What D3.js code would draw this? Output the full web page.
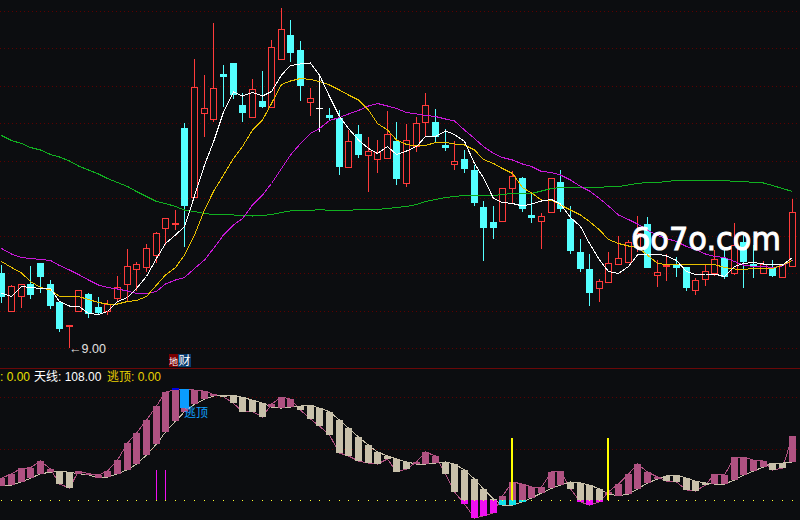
<!DOCTYPE html>
<html>
<head>
<meta charset="utf-8">
<title>K line</title>
<script src="https://cdn.jsdelivr.net/npm/d3@7"></script>
<style>
  body { margin: 0; background: #0c0d10; }
  svg { display: block; }
  text { font-family: "Liberation Sans", "Noto Sans CJK SC", sans-serif; }
</style>
</head>
<body>
<div id="chart"></div>
<script>
const open = [10.50, 9.74, 10.03, 10.28, 10.70, 10.28, 9.93, 9.44, 9.73, 10.08,
  9.82, 9.73, 9.99, 10.27, 10.57, 10.61, 10.85, 11.39, 11.48, 13.40,
  12.01, 13.69, 13.57, 14.48, 14.70, 13.86, 13.61, 13.94, 13.81, 14.77,
  15.26, 14.96, 13.91, 13.81, 13.66, 13.61, 12.61, 13.28, 12.85, 12.77,
  12.79, 13.14, 12.29, 13.03, 13.51, 13.52, 13.06, 12.67, 12.78, 12.56,
  11.82, 11.52, 11.53, 12.19, 12.40, 11.66, 11.53, 11.71, 12.32, 11.58,
  10.92, 10.58, 10.19, 10.31, 10.67, 10.71, 11.02, 11.48, 10.45, 10.63,
  10.67, 10.62, 10.15, 10.37, 10.49, 10.81, 10.49, 11.13, 10.68, 10.49,
  10.63, 10.41, 10.63];
const close = [10.02, 10.24, 10.27, 10.06, 10.42, 9.84, 9.39, 9.46, 10.15, 9.68,
  9.71, 9.88, 10.21, 10.63, 10.67, 10.99, 11.29, 11.59, 11.50, 11.84,
  14.21, 13.79, 14.19, 14.42, 14.06, 13.70, 14.17, 13.82, 15.01, 15.37,
  14.91, 14.24, 13.99, 13.81, 13.60, 12.63, 13.13, 12.86, 12.93, 12.92,
  13.27, 12.38, 13.15, 13.49, 13.85, 13.23, 13.00, 12.73, 12.58, 11.91,
  11.40, 11.40, 12.19, 12.43, 11.78, 11.60, 11.63, 12.39, 11.78, 10.95,
  10.58, 10.10, 10.33, 10.69, 10.79, 11.11, 11.29, 10.60, 10.51, 10.65,
  10.61, 10.20, 10.35, 10.53, 10.77, 10.43, 11.05, 10.73, 10.62, 10.67,
  10.45, 10.68, 11.71];
const high = [10.66, 10.26, 10.28, 10.64, 10.70, 10.36, 9.93, 9.46, 10.15, 10.11,
  10.02, 9.96, 10.44, 10.99, 10.72, 11.08, 11.33, 11.59, 11.76, 13.50,
  14.79, 14.46, 15.50, 14.66, 14.70, 14.11, 14.39, 14.54, 15.16, 15.81,
  15.56, 15.14, 14.21, 14.46, 13.81, 13.76, 13.36, 13.46, 13.22, 13.17,
  13.74, 13.52, 13.48, 13.62, 14.11, 13.78, 13.39, 13.14, 12.96, 12.67,
  11.94, 11.84, 12.19, 12.54, 12.42, 12.08, 11.70, 12.41, 12.57, 11.84,
  11.18, 10.89, 10.38, 10.92, 11.24, 11.16, 11.64, 11.62, 10.77, 10.88,
  10.83, 10.62, 10.40, 10.66, 10.97, 11.03, 11.51, 11.32, 11.06, 10.75,
  10.76, 10.68, 11.98];
const low = [9.90, 9.74, 9.81, 9.99, 10.11, 9.79, 9.33, 9.00, 9.73, 9.61,
  9.67, 9.67, 9.93, 9.95, 10.15, 10.53, 10.71, 11.06, 11.36, 11.03,
  12.01, 13.23, 13.53, 13.83, 13.99, 13.52, 13.61, 13.80, 13.81, 14.77,
  14.72, 13.94, 13.65, 13.33, 13.55, 12.47, 12.61, 12.81, 12.13, 12.51,
  12.79, 12.26, 12.23, 12.92, 13.23, 13.13, 12.95, 12.56, 12.51, 11.85,
  10.75, 11.18, 11.53, 11.91, 11.72, 11.51, 10.99, 11.71, 11.73, 10.88,
  10.52, 9.85, 9.93, 10.31, 10.67, 10.71, 10.92, 10.60, 10.23, 10.35,
  10.42, 10.15, 10.06, 10.24, 10.44, 10.39, 10.46, 10.21, 10.40, 10.49,
  10.42, 10.41, 10.63];

// moving averages
const ma5 = [10.10, 10.03, 10.23, 10.21, 10.19, 10.19, 9.93, 9.84, 9.84, 9.69,
  9.67, 9.73, 9.93, 10.01, 10.19, 10.43, 10.79, 11.09, 11.26, 11.43,
  12.04, 12.66, 13.12, 13.72, 14.12, 14.04, 14.11, 14.04, 14.13, 14.46,
  14.65, 14.68, 14.70, 14.46, 14.03, 13.63, 13.39, 13.16, 12.99, 12.89,
  13.03, 12.87, 12.94, 13.03, 13.23, 13.23, 13.34, 13.27, 13.13, 12.69,
  12.40, 11.99, 11.91, 11.89, 11.84, 11.88, 11.94, 11.97, 11.88, 11.61,
  11.43, 11.09, 10.76, 10.53, 10.49, 10.63, 10.86, 10.88, 10.88, 10.84,
  10.75, 10.53, 10.47, 10.48, 10.48, 10.43, 10.63, 10.69, 10.71, 10.68,
  10.68, 10.66, 10.81];
const ma10 = [10.73, 10.61, 10.50, 10.33, 10.21, 10.16, 10.03, 10.03, 10.03, 9.97,
  9.91, 9.88, 9.88, 9.93, 9.95, 10.03, 10.26, 10.46, 10.61, 10.86,
  11.26, 11.76, 12.13, 12.46, 12.79, 13.03, 13.36, 13.56, 13.89, 14.27,
  14.34, 14.39, 14.37, 14.33, 14.26, 14.16, 14.06, 13.96, 13.76, 13.49,
  13.36, 13.16, 13.07, 13.04, 13.05, 13.11, 13.11, 13.08, 13.06, 12.96,
  12.77, 12.69, 12.59, 12.49, 12.21, 12.10, 11.96, 11.96, 11.86, 11.76,
  11.66, 11.53, 11.36, 11.17, 11.09, 11.04, 11.01, 10.86, 10.69, 10.67,
  10.67, 10.67, 10.67, 10.67, 10.67, 10.61, 10.58, 10.57, 10.59, 10.59,
  10.59, 10.66, 10.75];
const ma30 = [10.99, 10.88, 10.81, 10.79, 10.77, 10.75, 10.65, 10.56, 10.47, 10.36,
  10.26, 10.21, 10.18, 10.14, 10.09, 10.09, 10.13, 10.28, 10.36, 10.41,
  10.59, 10.76, 10.99, 11.26, 11.46, 11.59, 11.86, 12.06, 12.29, 12.59,
  12.86, 13.09, 13.29, 13.39, 13.55, 13.61, 13.68, 13.75, 13.84, 13.89,
  13.84, 13.79, 13.71, 13.68, 13.65, 13.63, 13.58, 13.54, 13.36, 13.19,
  13.03, 12.89, 12.81, 12.76, 12.68, 12.63, 12.53, 12.51, 12.46, 12.36,
  12.23, 12.14, 11.99, 11.84, 11.66, 11.57, 11.48, 11.36, 11.25, 11.19,
  11.13, 11.03, 10.97, 10.88, 10.83, 10.81, 10.73, 10.66, 10.63, 10.63,
  10.61, 10.64, 10.76];
const ma60 = [13.25, 13.15, 13.09, 13.01, 12.96, 12.87, 12.82, 12.74, 12.64, 12.56,
  12.48, 12.39, 12.31, 12.23, 12.13, 12.03, 11.93, 11.89, 11.83, 11.76,
  11.73, 11.69, 11.67, 11.67, 11.66, 11.65, 11.64, 11.65, 11.67, 11.71,
  11.74, 11.75, 11.75, 11.77, 11.75, 11.75, 11.75, 11.77, 11.77, 11.77,
  11.79, 11.81, 11.83, 11.87, 11.93, 11.97, 12.01, 12.03, 12.05, 12.05,
  12.05, 12.05, 12.07, 12.09, 12.09, 12.09, 12.14, 12.19, 12.21, 12.21,
  12.21, 12.21, 12.21, 12.23, 12.23, 12.26, 12.29, 12.31, 12.31, 12.33,
  12.35, 12.35, 12.35, 12.35, 12.35, 12.35, 12.33, 12.33, 12.31, 12.30,
  12.25, 12.19, 12.13];

// lower panel
const fast = [21.4, 25.8, 31.0, 31.6, 38.2, 30.4, 15.8, 11.9, 28.4, 25.8,
  24.6, 28.4, 39.1, 55.6, 65.3, 77.9, 91.5, 105, 107.3, 108,
  107, 106, 102.8, 100.5, 94.1, 86, 86, 80.8, 93.4, 100.2,
  98.3, 87.6, 78.9, 72.1, 63.3, 45.9, 43, 38.1, 36.2, 35.2,
  40.1, 27.5, 30.4, 37.2, 46.9, 43, 25.5, 8.1, -3.6, -17.2,
  -15.2, -12.3, 4.2, 17.8, 15.8, 12.9, 12.9, 27.5, 28.4, 11,
  -1.6, -4.6, -1.6, 8.3, 15.8, 25.5, 35.2, 27.5, 22.6, 18.7,
  17.8, 10, 9, 14.8, 25.5, 24.5, 42, 42, 39.1, 38.1,
  29.4, 31.3, 62.4];
const slow = [13.9, 14.8, 17.8, 21.4, 25.8, 27.2, 28.4, 27.2, 25.8, 24.6,
  21.9, 22.6, 25.8, 29.7, 35.2, 43.9, 54.6, 66.3, 76.9, 86,
  93.1, 98.3, 101.2, 102.1, 102.1, 99.9, 97.3, 94.4, 90.5, 89.5,
  90.5, 91.5, 92.4, 89.5, 86, 77.9, 70.1, 61.4, 53.6, 46.9,
  43, 40.1, 37.2, 35.2, 35.2, 36.2, 37.2, 35.2, 29.4, 20.7,
  11, 1.3, -4.6, -4.6, -1.6, 2.2, 7.1, 11.6, 14.8, 17.8,
  16.8, 14.8, 11, 6.1, 4.2, 6.1, 11, 16.8, 20.7, 23.6,
  24.5, 21.6, 18.7, 16.8, 15.8, 15.8, 19.7, 24.5, 28.4, 32.3,
  36.2, 36.2, 37.2];

const priceTicks = [9, 9.75, 10.5, 11.25, 12, 12.75, 13.5, 14.25, 15, 15.75];
const lowerTicks = [50, 100];
const magentaSignals = [16, 17];
const yellowSignals = [53, 63];
const escapeIndex = 19;
const lowIndex = 7;

function init() {
    const w = 800;
    const h = 520;
    const bg = "#0c0d10";
    const red = "#ff3b3b";
    const cyan = "#54ffff";
    const pink = "#b05282";
    const beige = "#c8c0aa";

    const svg = d3.select("#chart")
        .append("svg")
        .attr("width", w)
        .attr("height", h)
        .style("background", bg)
        .attr("shape-rendering", "crispEdges");

    const xScale = d3.scaleLinear().domain([0, 82]).range([1.4, 791.5]);
    const x = i => Math.round(xScale(i));
    const yScale = d3.scaleLinear().domain([9, 15.75]).range([348, 10.5]);
    const vScale = d3.scaleLinear().domain([0, 100]).range([500.3, 397.3]);

    // grid
    svg.selectAll("line.grid")
        .data(priceTicks)
        .enter()
        .append("line")
        .attr("class", "grid")
        .attr("x1", 0).attr("x2", w)
        .attr("y1", d => Math.round(yScale(d)) + 0.5)
        .attr("y2", d => Math.round(yScale(d)) + 0.5)
        .attr("stroke", "#5c0000")
        .attr("stroke-dasharray", "1,3");

    svg.selectAll("line.lgrid")
        .data(lowerTicks)
        .enter()
        .append("line")
        .attr("class", "lgrid")
        .attr("x1", 0).attr("x2", w)
        .attr("y1", d => Math.round(vScale(d)) + 0.5)
        .attr("y2", d => Math.round(vScale(d)) + 0.5)
        .attr("stroke", "#5c0000")
        .attr("stroke-dasharray", "1,3");

    svg.append("line")
        .attr("x1", 0).attr("x2", w)
        .attr("y1", 368.5).attr("y2", 368.5)
        .attr("stroke", "#6a0808");

    // candles
    const candleColor = i => close[i] > open[i] ? red : close[i] < open[i] ? cyan : "#ffffff";
    const idx = d3.range(open.length);

    svg.selectAll("rect.wick")
        .data(idx)
        .enter()
        .append("rect")
        .attr("class", "wick")
        .attr("x", i => x(i))
        .attr("width", 1)
        .attr("y", i => yScale(high[i]))
        .attr("height", i => yScale(low[i]) - yScale(high[i]))
        .attr("fill", candleColor);

    svg.selectAll("rect.body")
        .data(idx)
        .enter()
        .append("rect")
        .attr("class", "body")
        .attr("x", i => close[i] > open[i] ? x(i) - 2.5 : x(i) - 3)
        .attr("width", i => close[i] > open[i] ? 6 : 7)
        .attr("y", i => yScale(Math.max(open[i], close[i])))
        .attr("height", i => Math.max(1, Math.abs(yScale(open[i]) - yScale(close[i]))))
        .attr("fill", i => close[i] > open[i] ? bg : candleColor(i))
        .attr("stroke", i => close[i] > open[i] ? red : "none");

    // moving averages
    const line = d3.line().x((d, i) => x(i) + 0.5).y(d => yScale(d));
    const maSeries = [
        { values: ma60, color: "#10b020" },
        { values: ma30, color: "#c818d8" },
        { values: ma10, color: "#e8c000" },
        { values: ma5, color: "#ffffff" }
    ];
    svg.selectAll("path.ma")
        .data(maSeries)
        .enter()
        .append("path")
        .attr("class", "ma")
        .attr("d", d => line(d.values))
        .attr("fill", "none")
        .attr("stroke", d => d.color);

    // low marker
    svg.append("text")
        .attr("x", x(lowIndex))
        .attr("y", yScale(low[lowIndex]) + 5)
        .attr("font-size", "12.5px")
        .attr("fill", "#e0e0e0")
        .text("←9.00");

    // lower panel lines
    const vLine = d3.line().x((d, i) => x(i) + 0.5).y(d => vScale(d));
    svg.append("path").attr("d", vLine(fast)).attr("fill", "none").attr("stroke", pink);
    svg.append("path").attr("d", vLine(slow)).attr("fill", "none").attr("stroke", beige);

    // lower panel bars, the part under zero changes colour
    svg.selectAll("rect.bar")
        .data(idx)
        .enter()
        .append("rect")
        .attr("class", "bar")
        .attr("x", i => x(i) - 3)
        .attr("width", 7)
        .attr("y", i => vScale(Math.max(fast[i], slow[i])))
        .attr("height", i => Math.max(1, vScale(Math.max(0, Math.min(fast[i], slow[i]))) - vScale(Math.max(fast[i], slow[i]))))
        .attr("fill", i => fast[i] >= slow[i] ? pink : beige);

    svg.selectAll("rect.under")
        .data(idx.filter(i => Math.min(fast[i], slow[i]) < 0))
        .enter()
        .append("rect")
        .attr("class", "under")
        .attr("x", i => x(i) - 3)
        .attr("width", 7)
        .attr("y", vScale(0))
        .attr("height", i => vScale(Math.min(fast[i], slow[i])) - vScale(0))
        .attr("fill", i => fast[i] >= slow[i] ? "#10e0e8" : "#f010f0");

    // escape signal
    svg.append("rect")
        .attr("x", x(escapeIndex) - 4)
        .attr("width", 9)
        .attr("y", vScale(108))
        .attr("height", vScale(90) - vScale(108))
        .attr("fill", "#0a9cff");
    svg.append("rect")
        .attr("x", x(escapeIndex - 1) - 3)
        .attr("width", 7)
        .attr("y", vScale(109.5))
        .attr("height", vScale(107.3) - vScale(109.5))
        .attr("fill", "#0000e0");

    svg.selectAll("rect.msig")
        .data(magentaSignals)
        .enter()
        .append("rect")
        .attr("class", "msig")
        .attr("x", i => x(i))
        .attr("width", 1)
        .attr("y", vScale(29))
        .attr("height", vScale(0) - vScale(29))
        .attr("fill", "#f010f0");

    svg.selectAll("rect.ysig")
        .data(yellowSignals)
        .enter()
        .append("rect")
        .attr("class", "ysig")
        .attr("x", i => x(i) - 1)
        .attr("width", 2)
        .attr("y", vScale(60.4))
        .attr("height", vScale(0) - vScale(60.4))
        .attr("fill", "#ffff00");

    // zero line is one dot per bar
    svg.selectAll("rect.zero")
        .data(idx)
        .enter()
        .append("rect")
        .attr("class", "zero")
        .attr("x", i => x(i))
        .attr("y", vScale(0))
        .attr("width", 1).attr("height", 1)
        .attr("fill", "#ffff30");

    svg.append("text")
        .attr("x", x(escapeIndex))
        .attr("y", 417)
        .attr("font-size", "12px")
        .attr("fill", "#10a0ff")
        .text("逃顶");

    // badge
    svg.append("rect").attr("x", 169).attr("y", 354).attr("width", 9).attr("height", 13).attr("fill", "#7a0000");
    svg.append("rect").attr("x", 178).attr("y", 354).attr("width", 13).attr("height", 13).attr("fill", "#0a3c6e");
    svg.append("text").attr("x", 169).attr("y", 364.5).attr("font-size", "9px").attr("fill", "#fff").text("地");
    svg.append("text").attr("x", 178.5).attr("y", 365).attr("font-size", "12px").attr("fill", "#fff").text("财");

    // legend
    const legend = [
        { text: ": 0.00", x: 0, color: "#e8e000" },
        { text: "天线: 108.00", x: 34, color: "#ffffff" },
        { text: "逃顶: 0.00", x: 107, color: "#e8d000" }
    ];
    svg.selectAll("text.legend")
        .data(legend)
        .enter()
        .append("text")
        .attr("class", "legend")
        .attr("x", d => d.x)
        .attr("y", 381)
        .attr("font-size", "12px")
        .attr("fill", d => d.color)
        .text(d => d.text);

    // watermark
    svg.append("text")
        .attr("x", 631)
        .attr("y", 250)
        .attr("shape-rendering", "auto")
        .style("font-family", "'DejaVu Sans'")
        .attr("font-size", "32px")
        .attr("textLength", 150)
        .attr("lengthAdjust", "spacingAndGlyphs")
        .attr("fill", "#ffffff")
        .attr("stroke", "#ffffff")
        .attr("stroke-width", 1)
        .text("6o7o.com");
}

window.onload = init;
</script>
</body>
</html>
